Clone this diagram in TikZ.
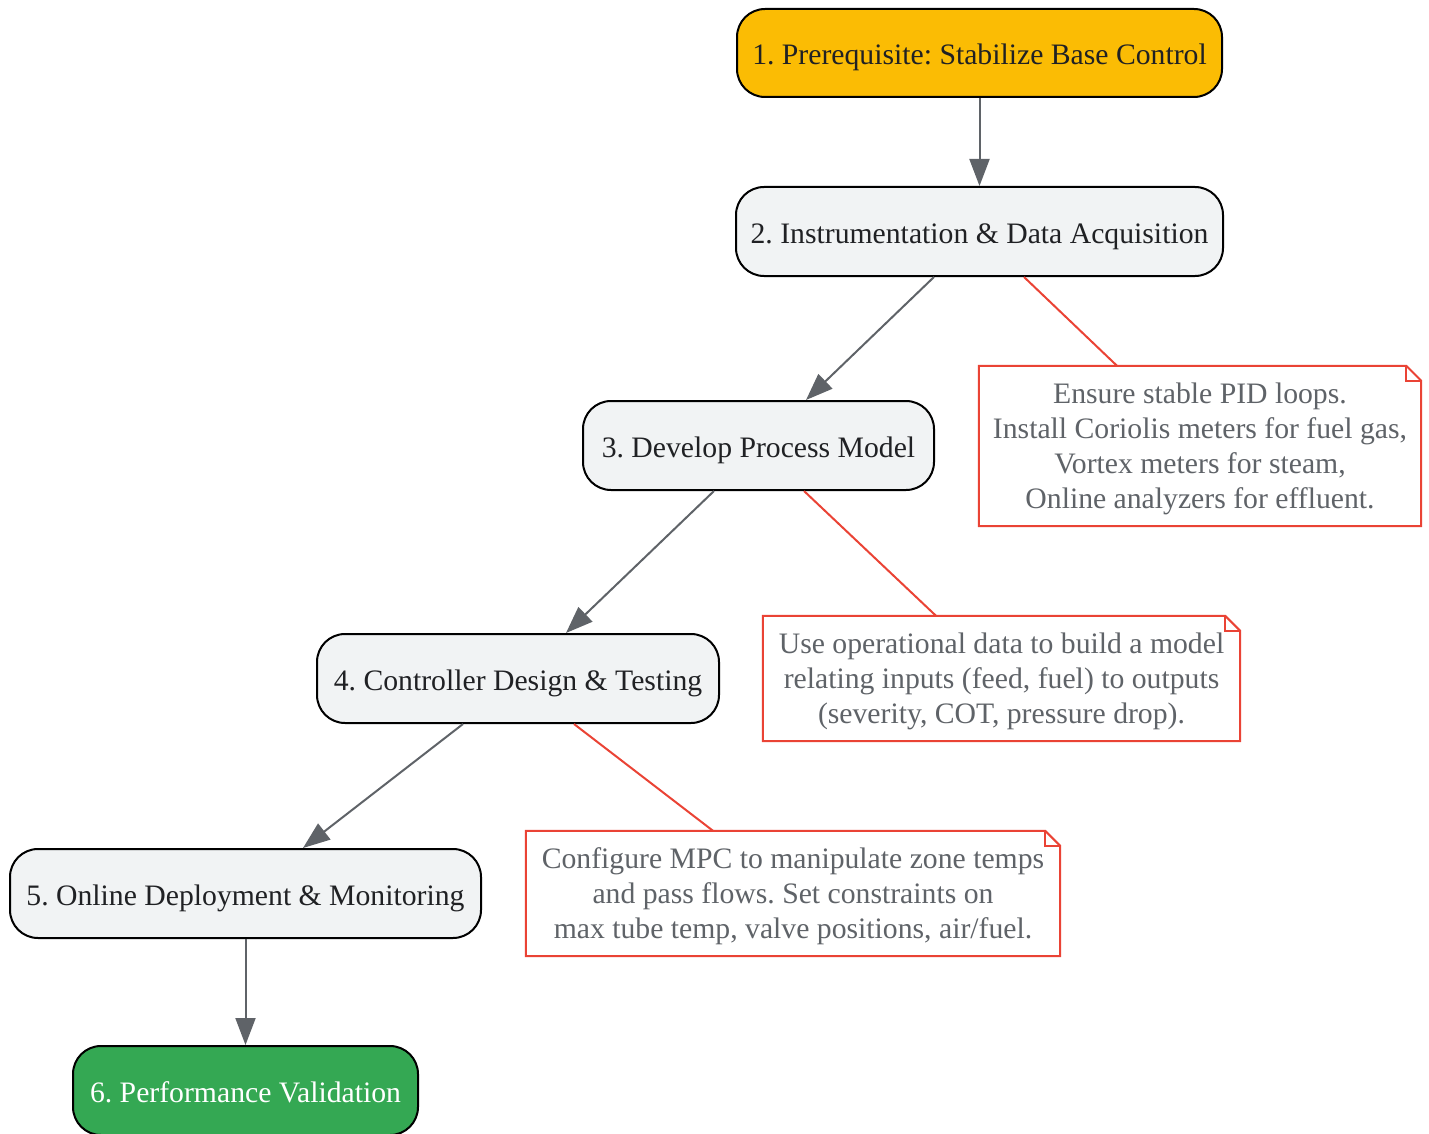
\documentclass[tikz,border=0pt]{standalone}
\usepackage{fontspec}
\setmainfont{Liberation Serif}
\usetikzlibrary{arrows.meta}

\definecolor{stepyellow}{HTML}{FBBC04}
\definecolor{stepgrey}{HTML}{F1F3F4}
\definecolor{stepgreen}{HTML}{34A853}
\definecolor{notered}{HTML}{EA4335}
\definecolor{notegrey}{HTML}{5F6368}
\definecolor{darktext}{HTML}{202124}

\begin{document}
\frenchspacing
\begin{tikzpicture}[x=1pt,y=-1pt,
		stepbox/.style={draw=black, line width=2pt, rounded corners=28pt, fill=stepgrey, text=darktext,
			minimum height=89pt, inner sep=0pt, text height=30pt, text depth=6pt,
			font=\fontsize{29.7}{35}\selectfont},
		notebox/.style={fill=white, text=notegrey, align=center, inner sep=0pt, text depth=0pt,
			font=\fontsize{29.7}{35}\selectfont},
		flow/.style={draw=notegrey, line width=2pt, -{Triangle[length=27pt,width=20pt]}},
		link/.style={draw=notered, line width=2pt}]
	\useasboundingbox (0,0) rectangle (1429,1134);

	\node[stepbox, fill=stepyellow, minimum width=485pt, minimum height=88pt] (1) at (979.5,53) {1. Prerequisite: Stabilize Base Control};
	\node[stepbox, minimum width=487pt] (2) at (979.5,231.5) {2. Instrumentation \& Data Acquisition};
	\node[stepbox, minimum width=351pt] (3) at (758.5,445.5) {3. Develop Process Model};
	\node[stepbox, minimum width=402pt] (4) at (518,678.5) {4. Controller Design \& Testing};
	\node[stepbox, minimum width=471pt] (5) at (245.5,893.5) {5. Online Deployment \& Monitoring};
	\node[stepbox, fill=stepgreen, text=white, minimum width=345pt] (6) at (245.5,1090.5) {6. Performance Validation};

	\node[notebox, minimum width=442pt, minimum height=160pt] (note2) at (1200,446) {Ensure stable PID loops.\\Install Coriolis meters for fuel gas,\\Vortex meters for steam,\\Online analyzers for effluent.};
	\node[notebox, minimum width=477pt, minimum height=125pt] (note3) at (1001.5,678.5) {Use operational data to build a model\\relating inputs (feed, fuel) to outputs\\(severity, COT, pressure drop).};
	\node[notebox, minimum width=534pt, minimum height=125pt] (note4) at (793,893.5) {Configure MPC to manipulate zone temps\\and pass flows. Set constraints on\\max tube temp, valve positions, air/fuel.};

	% folded note outlines
	\foreach \n in {note2,note3,note4} {
		\draw[link] (\n.south west) -- (\n.south east) -- ([yshift=-15pt]\n.north east)
			-- ([xshift=-15pt]\n.north east) -- (\n.north west) -- cycle;
		\draw[link] ([xshift=-15pt]\n.north east) |- ([yshift=-15pt]\n.north east);
	}

	\path[every edge/.style=flow]
	(1) edge (2)
	([xshift=-45.5pt]2.south) edge ([xshift=47.5pt]3.north)
	([xshift=-44.5pt]3.south) edge ([xshift=48pt]4.north)
	([xshift=-55pt]4.south) edge ([xshift=57.5pt]5.north)
	(5) edge (6)
	;

	\path[every edge/.style=link]
	([xshift=44.5pt]2.south) edge ([xshift=-83pt]note2.north)
	([xshift=45.5pt]3.south) edge ([xshift=-65.5pt]note3.north)
	([xshift=56pt]4.south) edge ([xshift=-80pt]note4.north)
	;
\end{tikzpicture}
\end{document}
